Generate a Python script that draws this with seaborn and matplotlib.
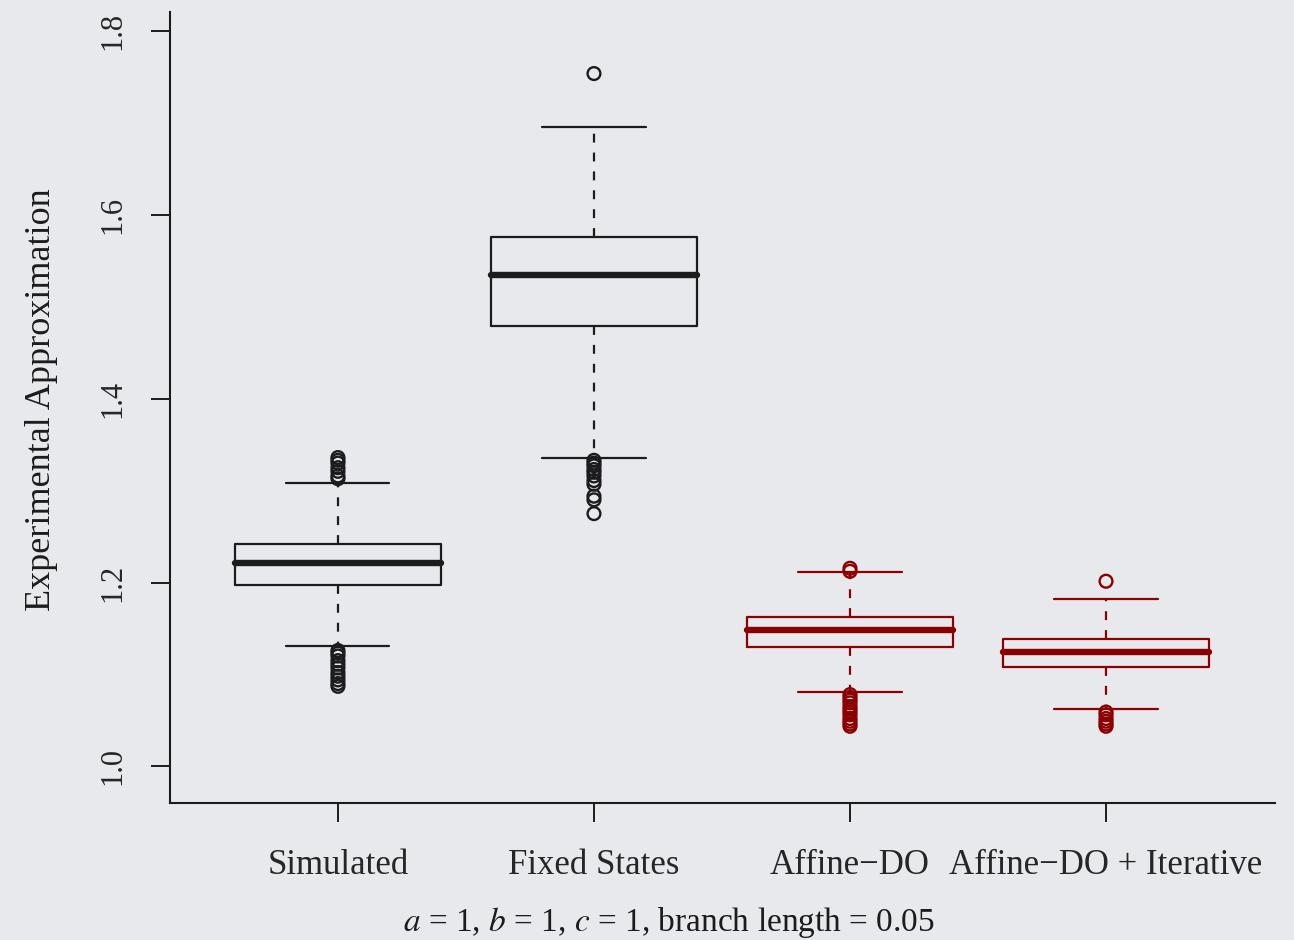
import matplotlib
matplotlib.use("Agg")
import matplotlib.pyplot as plt
import numpy as np
import pandas as pd
import seaborn as sns

# ---------------------------------------------------------------------------
# Data (box stats + outliers per method)
# ---------------------------------------------------------------------------
methods = ["Simulated", "Fixed States", "Affine\u2212DO", "Affine\u2212DO + Iterative"]

# lower whisker, Q1, median, Q3, upper whisker
simulated_box = [1.1306, 1.1970, 1.2210, 1.2416, 1.3080]
fixed_box = [1.3352, 1.4789, 1.5344, 1.5758, 1.6955]
affine_box = [1.0805, 1.1295, 1.1480, 1.1622, 1.2112]
iterative_box = [1.0620, 1.1078, 1.1241, 1.1382, 1.1818]

simulated_out = [1.336, 1.333, 1.330, 1.325, 1.321, 1.316, 1.313,
                 1.126, 1.123, 1.120, 1.115, 1.111, 1.107, 1.102,
                 1.098, 1.094, 1.090, 1.087]
fixed_out = [1.754,
             1.333, 1.330, 1.327, 1.323, 1.320, 1.316, 1.311, 1.307,
             1.294, 1.290, 1.275]
affine_out = [1.2155, 1.2122,
              1.078, 1.075, 1.072, 1.069, 1.065, 1.062, 1.059, 1.056,
              1.052, 1.049, 1.046, 1.0435]
iterative_out = [1.2014, 1.059, 1.056, 1.052, 1.049, 1.046, 1.0435]

box_values = [simulated_box, fixed_box, affine_box, iterative_box]
out_values = [simulated_out, fixed_out, affine_out, iterative_out]

_BLACK = "#1c1c1c"
_RED = "#8b0000"
_BG = "#e8e9ed"
palette = dict(zip(methods, [_BLACK, _BLACK, _RED, _RED]))

box_df = pd.DataFrame(
    [(m, v) for m, vals in zip(methods, box_values) for v in vals],
    columns=["method", "value"],
)
out_df = pd.DataFrame(
    [(m, v) for m, vals in zip(methods, out_values) for v in vals],
    columns=["method", "value"],
)

# ---------------------------------------------------------------------------
# Plot
# ---------------------------------------------------------------------------
sns.set_theme(style="ticks")
plt.rcParams["font.family"] = ["Liberation Serif", "DejaVu Serif"]
plt.rcParams["mathtext.fontset"] = "stix"

fig = plt.figure(figsize=(12.94, 9.40), dpi=100, facecolor=_BG)
ax = fig.add_axes([170 / 1294, 137 / 940, 1105 / 1294, 791 / 940])
ax.set_facecolor(_BG)

sns.boxplot(
    data=box_df, x="method", y="value", hue="method", order=methods,
    palette=palette, fill=False, width=0.805, whis=100, showfliers=False,
    linewidth=1.6, legend=False, ax=ax,
    medianprops={"linewidth": 4.6, "solid_capstyle": "round"},
    whiskerprops={"linestyle": (0, (4.0, 4.5))},
)

n_before = len(ax.collections)
sns.stripplot(
    data=out_df, x="method", y="value", hue="method", order=methods,
    palette=palette, jitter=False, size=9.2, legend=False, ax=ax,
)
# open circles like R's default pch=1
for coll in ax.collections[n_before:]:
    fc = coll.get_facecolors()
    coll.set_edgecolors(fc)
    coll.set_facecolors("none")
    coll.set_linewidth(1.7)

ax.set_xlim(-0.656, 3.66)
ax.set_ylim(0.960, 1.821)
ax.set_yticks([1.0, 1.2, 1.4, 1.6, 1.8])
ax.set_yticklabels(["1.0", "1.2", "1.4", "1.6", "1.8"])

sns.despine(ax=ax)
for side in ("left", "bottom"):
    ax.spines[side].set_linewidth(1.5)
    ax.spines[side].set_color(_BLACK)

ax.tick_params(axis="both", direction="out", length=14, width=1.4, color=_BLACK)
ax.tick_params(axis="y", labelsize=22, pad=17, labelrotation=90)
ax.tick_params(axis="x", labelsize=25, pad=19)
for lab in ax.get_yticklabels():
    lab.set_va("center")

ax.set_ylabel("Experimental Approximation", fontsize=26, color=_BLACK)
ax.yaxis.set_label_coords(-0.101, 0.5095)
ax.set_xlabel(r"$a$ = 1, $b$ = 1, $c$ = 1, branch length = 0.05",
              fontsize=24, color=_BLACK)
ax.xaxis.set_label_coords(0.4516, -0.129)

fig.savefig("out.png", dpi=100, facecolor=_BG)
